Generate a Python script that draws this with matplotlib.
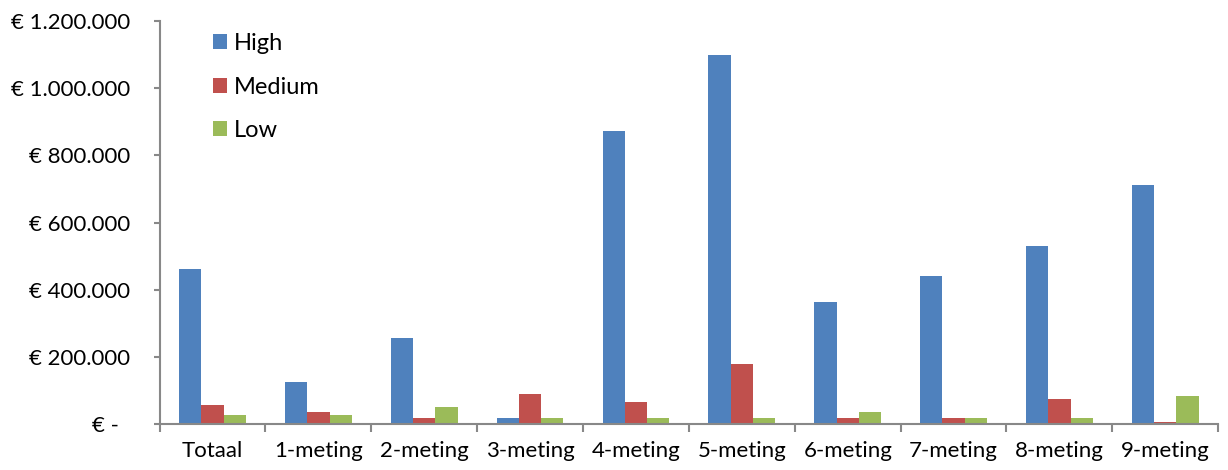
import matplotlib
matplotlib.use("Agg")
import matplotlib.pyplot as plt
import numpy as np
from matplotlib.ticker import FuncFormatter

categories = ["Totaal", "1-meting", "2-meting", "3-meting", "4-meting",
              "5-meting", "6-meting", "7-meting", "8-meting", "9-meting"]
high = [461000, 126000, 256000, 19000, 872000, 1098000, 363000, 440000, 530000, 711000]
medium = [57000, 36000, 19000, 88000, 65000, 180000, 19000, 19000, 75000, 5000]
low = [28000, 27000, 49000, 19000, 19000, 19000, 36000, 19000, 19000, 82000]
series_names = ["High", "Medium", "Low"]
colors = ["#4F81BD", "#C0504D", "#9BBB59"]

plt.rcParams['font.family'] = ['Lato', 'DejaVu Sans']

fig = plt.figure(figsize=(12.28, 4.70), dpi=100)
ax = fig.add_axes([0.130, 0.098, 0.862, 0.857])

x = np.arange(len(categories))
w = 0.21
for i, (vals, name, c) in enumerate(zip([high, medium, low], series_names, colors)):
    ax.bar(x + (i - 1) * w, vals, width=w, color=c, label=name, zorder=2)

ax.set_xlim(-0.5, len(categories) - 0.5)
ax.set_ylim(0, 1200000)
ax.set_yticks(np.arange(0, 1200001, 200000))

def fmt(v, pos):
    if v == 0:
        return "€ -  "
    return "€ " + f"{int(v):,}".replace(",", ".")

ax.yaxis.set_major_formatter(FuncFormatter(fmt))
ax.set_xticks(x)
ax.set_xticklabels(categories)
ax.set_xticks(np.arange(-0.5, len(categories), 1), minor=True)
ax.tick_params(axis='x', which='major', length=0, pad=12, labelsize=16)
ax.tick_params(axis='x', which='minor', length=6, color="#888888", width=1.5)
ax.tick_params(axis='y', length=4, color="#888888", width=1.5, labelsize=16, pad=17)

for s in ["top", "right"]:
    ax.spines[s].set_visible(False)
for s in ["left", "bottom"]:
    ax.spines[s].set_color("#888888")
    ax.spines[s].set_linewidth(1.5)

ax.legend(loc="upper left", bbox_to_anchor=(0.037, 1.005), frameon=False,
          fontsize=17, handlelength=0.6, handleheight=0.6, labelspacing=0.95,
          handletextpad=0.3, borderaxespad=0.2)

fig.savefig("out.png", dpi=100)
